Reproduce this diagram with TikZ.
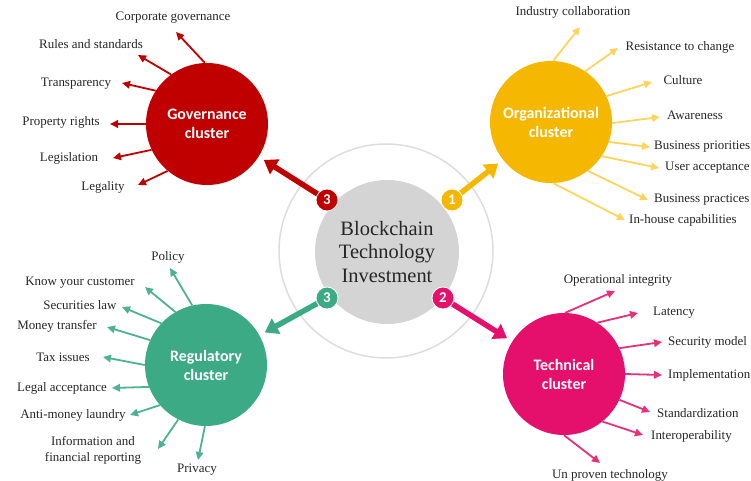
\documentclass[tikz,border=0pt]{standalone}
\usepackage{fontspec}
\setmainfont{Liberation Serif}
\newfontfamily\clusterfont{Carlito}
\usetikzlibrary{arrows.meta}

\definecolor{govred}{HTML}{C00000}
\definecolor{orgyel}{HTML}{F5B700}
\definecolor{orgarr}{HTML}{FFD45E}
\definecolor{reggrn}{HTML}{3BAA85}
\definecolor{regarr}{HTML}{4DB38F}
\definecolor{techpk}{HTML}{E5106B}
\definecolor{techarr}{HTML}{E8307A}
\definecolor{hubgrey}{HTML}{D4D4D4}
\definecolor{ringgrey}{HTML}{DDDDDD}
\definecolor{labelink}{HTML}{262626}

\tikzset{
  cluster/.style={circle, minimum size=122bp, inner sep=0pt, text=white, align=center,
    font=\clusterfont\bfseries\fontsize{16}{19}\selectfont},
  lbl/.style={text=labelink, inner sep=1pt, align=center,
    font=\fontsize{13}{16}\selectfont},
  spoke/.style={line width=1.8bp, -{Triangle[length=8bp,width=7.5bp]}},
  mainarrow/.style={line width=5.5bp, -{Triangle[length=13bp,width=17bp]}, shorten >=6bp},
  badge/.style={circle, minimum size=22bp, inner sep=0pt, text=white, draw=white,
    line width=0.8bp, font=\clusterfont\bfseries\fontsize{15}{15}\selectfont}
}

\begin{document}
\begin{tikzpicture}[x=1bp, y=-1bp]
\useasboundingbox (0,0) rectangle (751,481);

% hub: outer ring and grey disc
\draw[ringgrey, line width=1.5bp] (386,251) circle[radius=107];
\node[circle, fill=hubgrey, minimum size=144bp, inner sep=0pt, text=labelink,
  align=center, font=\fontsize{20.5}{24}\selectfont] (hub) at (387,252)
  {Blockchain\\Technology\\Investment};

% the four clusters
\node[cluster, fill=govred]  (gov)  at (207,124) {Governance\\cluster};
\node[cluster, fill=orgyel]  (org)  at (551,122) {Organizational\\cluster};
\node[cluster, fill=reggrn]  (reg)  at (206,365) {Regulatory\\cluster};
\node[cluster, fill=techpk]  (tech) at (564,374) {Technical\\cluster};

% numbered arrows from the hub to each cluster
\coordinate (bgov)  at (327,200);
\coordinate (borg)  at (452,200);
\coordinate (breg)  at (327,298);
\coordinate (btech) at (443,298);
\draw[mainarrow, govred]  (bgov)  -- (gov);
\draw[mainarrow, orgyel]  (borg)  -- (org);
\draw[mainarrow, reggrn]  (breg)  -- (reg);
\draw[mainarrow, techpk]  (btech) -- (tech);
\node[badge, fill=govred]  (bg) at (bgov)  {3};
\node[badge, fill=orgyel]  (bo) at (borg)  {1};
\node[badge, fill=reggrn]  (br) at (breg)  {3};
\node[badge, fill=techpk]  (bt) at (btech) {2};

% governance factors
\node[lbl] (g1) at (173,18)  {Corporate governance};
\node[lbl] (g2) at (91,44)   {Rules and standards};
\node[lbl] (g3) at (76,84)   {Transparency};
\node[lbl] (g4) at (61,122)  {Property rights};
\node[lbl] (g5) at (69,158)  {Legislation};
\node[lbl] (g6) at (103,187) {Legality};
\foreach \n/\ang/\tx/\ty in {1/92/176/32, 2/126/138/55, 3/147/122/83,
                             4/180/110/124, 5/205/113/158, 6/230/138/185}{
  \coordinate (gt\n) at (\tx,\ty);
  \draw[spoke, govred] (gov.\ang) -- (gt\n);
}

% organizational factors
\node[lbl] (o1) at (573,12) {Industry collaboration};
\node[lbl] (o2) at (680,47) {Resistance to change};
\node[lbl] (o3) at (683,80) {Culture};
\node[lbl] (o4) at (695,115) {Awareness};
\node[lbl, anchor=west] (o5) at (653,147) {Business priorities};
\node[lbl, anchor=west] (o6) at (664,168) {User acceptance};
\node[lbl, anchor=west] (o7) at (653,200) {Business practices};
\node[lbl, anchor=west] (o8) at (628,220) {In-house capabilities};
\foreach \n/\ang/\tx/\ty in {1/88/580/27, 2/56/618/48, 3/25/652/82, 4/359/660/117,
                             5/341/650/147, 6/326/659/168, 7/307/648/200, 8/272/625/220}{
  \coordinate (ot\n) at (\tx,\ty);
  \draw[spoke, orgarr] (org.\ang) -- (ot\n);
}

% regulatory factors
\node[lbl] (r1) at (168,257) {Policy};
\node[lbl] (r2) at (80,283)  {Know your customer};
\node[lbl] (r3) at (80,305)  {Securities law};
\node[lbl] (r4) at (57,326)  {Money transfer};
\node[lbl] (r5) at (63,357)  {Tax issues};
\node[lbl] (r6) at (62,388)  {Legal acceptance};
\node[lbl] (r7) at (73,415)  {Anti-money laundry};
\node[lbl] (r8) at (93,450)  {Information and\\financial reporting};
\node[lbl] (r9) at (197,470) {Privacy};
\foreach \n/\ang/\tx/\ty in {1/103/170/268, 2/120/145/287, 3/137/122/307,
                             4/156/107/327, 5/180/103/357, 6/201/112/388,
                             7/221/130/415, 8/243/158/449, 9/269/198/460}{
  \coordinate (rt\n) at (\tx,\ty);
  \draw[spoke, regarr] (reg.\ang) -- (rt\n);
}

% technical factors
\node[lbl] (t1) at (618,280) {Operational integrity};
\node[lbl] (t2) at (674,313) {Latency};
\node[lbl, anchor=west] (t3) at (667,342) {Security model};
\node[lbl, anchor=west] (t4) at (667,375) {Implementation};
\node[lbl, anchor=west] (t5) at (656,413) {Standardization};
\node[lbl, anchor=west] (t6) at (650,436) {Interoperability};
\node[lbl] (t7) at (610,475) {Un proven technology};
\foreach \n/\ang/\tx/\ty in {1/89/615/291, 2/57/638/313, 3/25/662/342, 4/0/662/375,
                             5/335/650/412, 6/309/643/435, 7/270/600/463}{
  \coordinate (tt\n) at (\tx,\ty);
  \draw[spoke, techarr] (tech.\ang) -- (tt\n);
}
\end{tikzpicture}
\end{document}
